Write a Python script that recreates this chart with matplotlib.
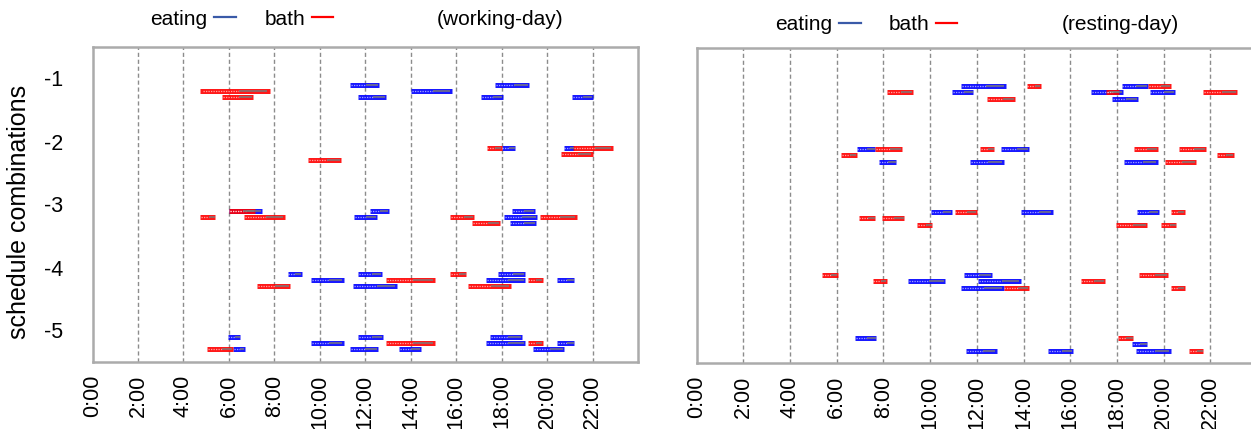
import matplotlib
matplotlib.use("Agg")
import matplotlib.pyplot as plt

plt.rcParams['font.family'] = ['Liberation Sans', 'DejaVu Sans']

# (row, start hour, end hour)
work_eating = [
    (-1.1, 11.35, 12.6), (-1.3, 11.7, 12.9), (-1.2, 14.0, 15.8), (-1.1, 17.7, 19.2),
    (-1.3, 17.1, 18.05), (-1.3, 21.1, 22.0),
    (-2.1, 18.0, 18.6), (-2.1, 20.75, 21.2),
    (-3.1, 6.0, 7.45), (-3.1, 12.2, 13.05), (-3.2, 11.5, 12.5), (-3.1, 18.45, 19.45),
    (-3.2, 18.1, 19.55), (-3.3, 18.35, 19.5),
    (-4.1, 8.6, 9.2), (-4.2, 9.6, 11.05), (-4.1, 11.7, 12.75), (-4.3, 11.45, 13.4),
    (-4.1, 17.85, 19.05), (-4.2, 17.3, 19.05), (-4.2, 20.45, 21.2),
    (-5.1, 5.95, 6.5), (-5.3, 6.2, 6.7), (-5.2, 9.6, 11.05), (-5.1, 11.7, 12.8),
    (-5.3, 11.35, 12.55), (-5.3, 13.5, 14.45), (-5.1, 17.5, 18.9), (-5.2, 17.3, 19.05),
    (-5.2, 20.45, 21.2), (-5.3, 19.4, 20.75),
]
work_bath = [
    (-1.2, 4.75, 7.8), (-1.3, 5.7, 7.05),
    (-2.3, 9.5, 10.95), (-2.1, 17.35, 18.0), (-2.1, 21.15, 22.9), (-2.2, 20.6, 22.0),
    (-3.2, 4.75, 5.4), (-3.1, 6.0, 7.15), (-3.2, 6.65, 8.45), (-3.2, 15.75, 16.8),
    (-3.3, 16.7, 17.95), (-3.2, 19.7, 21.3),
    (-4.3, 7.25, 8.7), (-4.2, 12.9, 15.05), (-4.1, 15.75, 16.45), (-4.3, 16.5, 18.4),
    (-4.2, 19.15, 19.8),
    (-5.3, 5.05, 6.2), (-5.2, 12.9, 15.05), (-5.2, 19.15, 19.8),
]
rest_eating = [
    (-1.1, 11.3, 13.25), (-1.2, 10.95, 11.85), (-1.2, 16.9, 18.25), (-1.1, 18.2, 19.35),
    (-1.2, 19.4, 20.5), (-1.3, 17.8, 18.9),
    (-2.1, 6.85, 7.65), (-2.1, 13.05, 14.25), (-2.3, 7.8, 8.55), (-2.3, 11.7, 13.15),
    (-2.3, 18.3, 19.75),
    (-3.1, 10.05, 10.95), (-3.1, 13.9, 15.25), (-3.1, 18.85, 19.8),
    (-4.1, 11.45, 12.65), (-4.2, 9.05, 10.65), (-4.2, 12.05, 13.9), (-4.3, 11.3, 13.15),
    (-5.1, 6.8, 7.7), (-5.3, 11.55, 12.85), (-5.3, 15.05, 16.1), (-5.2, 18.65, 19.3),
    (-5.3, 18.8, 20.3),
]
rest_bath = [
    (-1.1, 14.15, 14.75), (-1.1, 19.35, 20.3), (-1.2, 8.15, 9.25), (-1.2, 17.55, 18.1),
    (-1.2, 21.7, 23.15), (-1.3, 12.45, 13.65),
    (-2.1, 7.65, 8.8), (-2.1, 12.15, 12.75), (-2.1, 18.75, 19.75), (-2.1, 20.65, 21.8),
    (-2.2, 6.2, 6.85), (-2.2, 22.3, 23.0), (-2.3, 20.05, 21.4),
    (-3.1, 11.05, 12.0), (-3.1, 20.3, 20.9), (-3.2, 6.95, 7.65), (-3.2, 7.95, 8.9),
    (-3.3, 9.45, 10.1), (-3.3, 17.95, 19.3), (-3.3, 19.9, 20.55),
    (-4.1, 5.35, 6.05), (-4.1, 18.95, 20.2), (-4.2, 7.55, 8.15), (-4.2, 16.45, 17.5),
    (-4.3, 13.15, 14.25), (-4.3, 20.3, 20.9),
    (-5.1, 18.05, 18.7), (-5.3, 21.1, 21.7),
]

hour_ticks = list(range(0, 24, 2))
hour_labels = [f"{h}:00" for h in hour_ticks]
row_ticks = [-1, -2, -3, -4, -5]

EAT_COLOR = "#0000ff"
BATH_COLOR = "#ff0000"
SPINE = "#ababab"

W, H = 1251, 429
fig = plt.figure(figsize=(W / 100, H / 100), dpi=100)


def draw_segments(ax, segs, color):
    for row, s, e in segs:
        ax.plot([s, e], [row, row], color=color, lw=3.6, solid_capstyle='butt',
                alpha=0.9, zorder=3)
        m = s + 0.55 * (e - s)
        ax.plot([s + 0.03 * (e - s), m], [row, row], color='white', lw=0.9,
                ls=(0, (1, 1)), alpha=0.6, zorder=4)
        ax.plot([m, e - 0.04 * (e - s)], [row, row], color='#7a7a7a', lw=1.1,
                solid_capstyle='butt', zorder=4)


def setup(ax, ylabels=True):
    ax.set_xlim(0, 24)
    ax.set_ylim(-5.5, -0.5)
    ax.set_xticks(hour_ticks)
    ax.set_xticklabels(hour_labels, rotation=90, fontsize=15.5, va='top')
    ax.set_yticks(row_ticks)
    if ylabels:
        ax.set_yticklabels([str(r) for r in row_ticks], fontsize=15.5)
    else:
        ax.set_yticklabels([])
    ax.tick_params(axis='x', length=0, pad=9)
    ax.tick_params(axis='y', length=0, pad=21)
    for x in hour_ticks[1:]:
        ax.axvline(x, color='#8c8c8c', lw=1.0, ls=(0, (3, 2)), zorder=1)
    for sp in ax.spines.values():
        sp.set_color(SPINE)
        sp.set_linewidth(1.8)


ax1 = fig.add_axes([92.5 / W, 1 - 362 / H, (638 - 92.5) / W, (362 - 47) / H])
setup(ax1)
draw_segments(ax1, work_eating, EAT_COLOR)
draw_segments(ax1, work_bath, BATH_COLOR)

ax2 = fig.add_axes([696.7 / W, 1 - 363.3 / H, (1257 - 696.7) / W, (363.3 - 48.3) / H])
setup(ax2, ylabels=False)
draw_segments(ax2, rest_eating, EAT_COLOR)
draw_segments(ax2, rest_bath, BATH_COLOR)

fig.text(19.5 / W, 1 - 212 / H, "schedule combinations", rotation=90,
         fontsize=18, ha='center', va='center')


def header(x0, base_y, line_y, x_bath, x_title, title):
    fig.text(x0 / W, 1 - base_y / H, "eating", fontsize=15, va='baseline')
    fig.add_artist(plt.Line2D([(x0 + 64) / W, (x0 + 86) / W], [1 - line_y / H] * 2,
                              color='#3a5aa8', lw=1.6))
    fig.text(x_bath / W, 1 - base_y / H, "bath", fontsize=15, va='baseline')
    fig.add_artist(plt.Line2D([(x_bath + 47) / W, (x_bath + 68) / W], [1 - line_y / H] * 2,
                              color='#ff0000', lw=1.6))
    fig.text(x_title / W, 1 - base_y / H, title, fontsize=15, va='baseline')


header(150, 25, 17, 265, 437, "(working-day)")
header(775, 29.5, 23.3, 889, 1062, "(resting-day)")

fig.savefig("out.png", dpi=100)
